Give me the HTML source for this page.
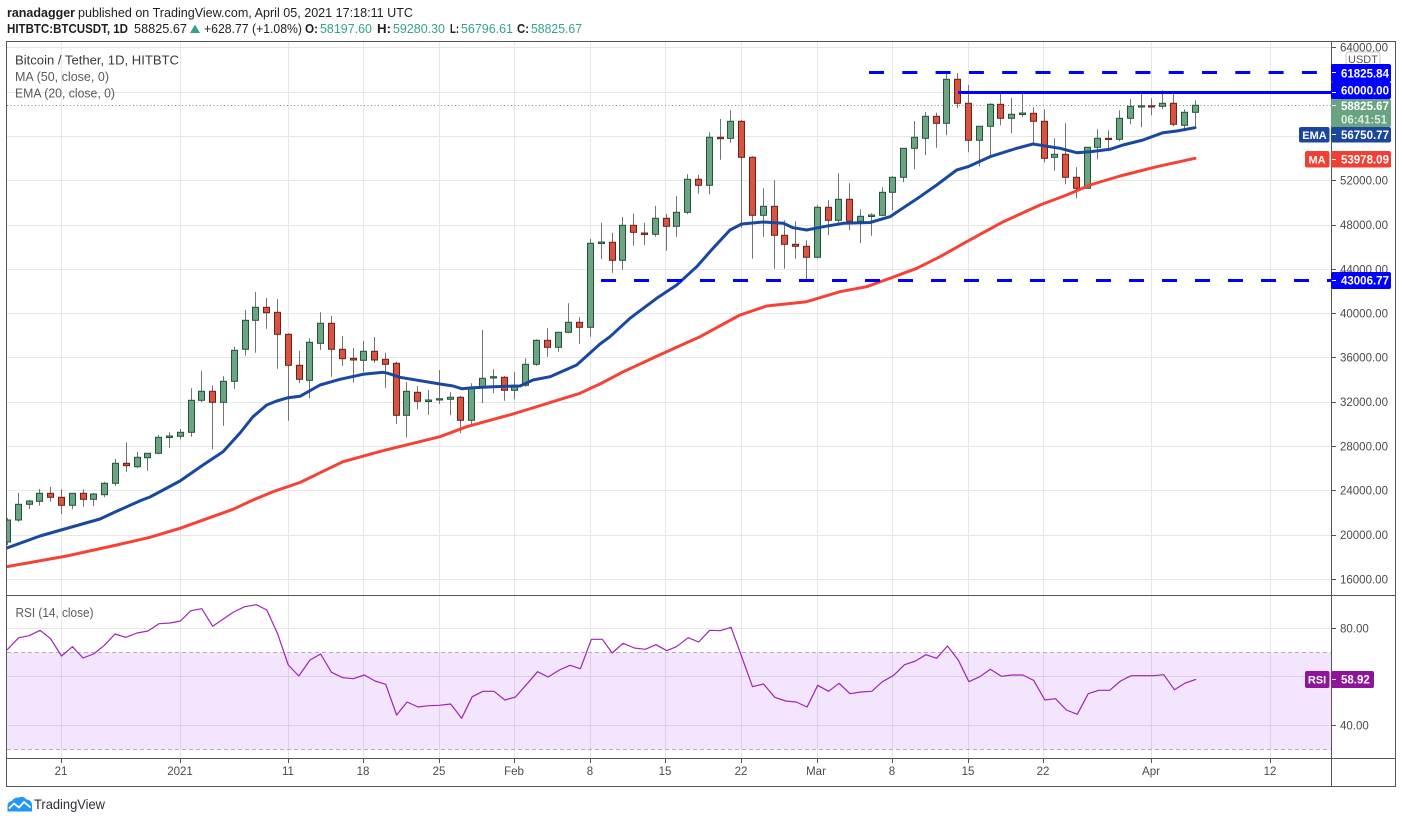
<!DOCTYPE html>
<html><head><meta charset="utf-8">
<style>
html,body{margin:0;padding:0;background:#fff;overflow:hidden;}
svg{display:block;}
text{font-family:"Liberation Sans",sans-serif;}
</style></head>
<body>
<svg id="c" width="1402" height="823" viewBox="0 0 1402 823" xmlns="http://www.w3.org/2000/svg">
<defs>
<clipPath id="pc"><rect x="7" y="42" width="1324.5" height="553"/></clipPath>
<clipPath id="rc"><rect x="7" y="596" width="1324.5" height="162"/></clipPath>
</defs>
<rect width="1402" height="823" fill="#fff"/>

<!-- header -->
<text x="7" y="17" font-size="13" font-weight="bold" fill="#1e1e1e" textLength="68" lengthAdjust="spacingAndGlyphs">ranadagger</text>
<text x="78" y="17" font-size="13" fill="#1e1e1e" textLength="335" lengthAdjust="spacingAndGlyphs">published on TradingView.com, April 05, 2021 17:18:11 UTC</text>

<text x="7" y="33" font-size="12.5" font-weight="bold" fill="#1e1e1e" textLength="121" lengthAdjust="spacingAndGlyphs">HITBTC:BTCUSDT, 1D</text>
<text x="134" y="33" font-size="12.5" fill="#1e1e1e" textLength="53" lengthAdjust="spacingAndGlyphs">58825.67</text>
<polygon points="190,33 200,33 195,24.5" fill="#30a390"/>
<text x="204" y="33" font-size="12.5" fill="#1e1e1e" textLength="98" lengthAdjust="spacingAndGlyphs">+628.77 (+1.08%)</text>
<text x="305" y="33" font-size="12.5" font-weight="bold" fill="#1e1e1e" textLength="13" lengthAdjust="spacingAndGlyphs">O:</text>
<text x="320" y="33" font-size="12.5" fill="#35a190" textLength="52" lengthAdjust="spacingAndGlyphs">58197.60</text>
<text x="377" y="33" font-size="12.5" font-weight="bold" fill="#1e1e1e" textLength="14" lengthAdjust="spacingAndGlyphs">H:</text>
<text x="393" y="33" font-size="12.5" fill="#35a190" textLength="52" lengthAdjust="spacingAndGlyphs">59280.30</text>
<text x="450" y="33" font-size="12.5" font-weight="bold" fill="#1e1e1e" textLength="9" lengthAdjust="spacingAndGlyphs">L:</text>
<text x="461" y="33" font-size="12.5" fill="#35a190" textLength="52" lengthAdjust="spacingAndGlyphs">56796.61</text>
<text x="517" y="33" font-size="12.5" font-weight="bold" fill="#1e1e1e" textLength="12" lengthAdjust="spacingAndGlyphs">C:</text>
<text x="531" y="33" font-size="12.5" fill="#35a190" textLength="51" lengthAdjust="spacingAndGlyphs">58825.67</text>

<!-- grid -->
<g stroke="#e7e7e7" stroke-width="1" fill="none">
  <path d="M7 47.5H1331 M7 92.5H1331 M7 136.5H1331 M7 180.5H1331 M7 225.5H1331 M7 269.5H1331 M7 313.5H1331 M7 357.5H1331 M7 402.5H1331 M7 446.5H1331 M7 490.5H1331 M7 535.5H1331 M7 579.5H1331"/>
  <path d="M7 628.5H1331 M7 676.5H1331 M7 725.5H1331"/>
  <path d="M61.5 42V758 M180.5 42V758 M288.5 42V758 M363.5 42V758 M439.5 42V758 M514.5 42V758 M590.5 42V758 M665.5 42V758 M741.5 42V758 M817.5 42V758 M892.5 42V758 M968.5 42V758 M1043.5 42V758 M1151.5 42V758 M1270.5 42V758"/>
</g>

<!-- RSI band -->
<rect x="7" y="652.5" width="1324.5" height="97" fill="rgb(135,0,235)" fill-opacity="0.1"/>
<g stroke="#b9a9c1" stroke-width="1" stroke-dasharray="4 3">
  <path d="M7 652.5H1331 M7 749.5H1331"/>
</g>

<!-- dotted last price line -->
<path d="M7 105.5H1331" stroke="#5e9a78" stroke-width="1" stroke-dasharray="1 2.5"/>

<!-- candles -->
<g id="candles" clip-path="url(#pc)"></g>

<!-- MA / EMA -->
<g clip-path="url(#pc)" fill="none" stroke-linejoin="round" stroke-linecap="round">
<polyline stroke="#f44336" stroke-width="3" points="7,566.7 66.7,556 116.7,545 150,537.3 180,528.3 233,509.3 253,500 273,491.7 300,482.5 343,461.7 383,450.7 440,436.7 466.7,426.7 513,414 580,393.3 590,388.5 600,384 623.3,371.7 663.3,353.3 700,336.7 740,315 766.7,306 806.7,301.7 840,291.7 866.7,286.7 890,278.3 916.7,268.3 940,256.7 966.7,241.7 1003.3,221.7 1040,205 1066.7,195 1090,185 1120,176 1156.7,166.7 1195,158.3"/>
<polyline stroke="#1848a0" stroke-width="3" points="7,548 40,536 61,530 100,519 115,512 142,500 150,497 180,481 203,465 223,451.7 240,433 253,416.7 266.7,405 276.7,401 288,397.7 300,396.3 320,385 340,379.3 363,374.3 383,372.3 388,373.3 400,377.3 440,384 453,386 461.7,388.7 473,387.7 493,386.7 520,386 533,380 550,376.7 576.7,365 590,353 600,344 610,336.7 630,318.3 656.7,298.3 676.7,285 696.7,266.7 713,248.3 730,230 741.7,224 763.3,222 783.3,223.3 793,227.7 806.7,230 823.3,226.7 843.3,223.3 870,222.5 890,216.7 900,210 920,196.7 936.7,185 956.7,170 968,166.7 990,156.7 1016.7,148.3 1033,144 1060,148.3 1076.7,152.7 1090,151.7 1110,149.3 1123,145 1143,140 1163,132.7 1176.7,131 1195,127.7"/>
</g>

<!-- horizontal levels -->
<g stroke="#0000ff" stroke-width="3" fill="none">
  <path d="M869 72.5H1331" stroke-dasharray="15 18.3"/>
  <path d="M601 280.5H1331" stroke-dasharray="15 18"/>
  <path d="M958 92.5H1331"/>
</g>

<!-- RSI line -->
<polyline clip-path="url(#rc)" fill="none" stroke="#9c27b0" stroke-width="1.2" stroke-linejoin="round" points="7,650 18.7,637.7 29.2,635.7 40.1,630.3 50.6,638.7 61.5,656 72.5,646.7 83,658 93.5,654 104,645.7 115,634 125.8,637.3 137.1,633 148,631 159,623.7 170.2,623 180.4,621 190.9,610.7 201.8,608.7 212.7,626.3 223.2,619 233.7,612 244.6,606.7 256.3,604.7 266.8,610 277.8,634.3 288.3,665 298.8,676 310,660 320.6,654 331.5,672.3 342.8,677.7 353.3,678.7 364.2,675 375.1,681 385.7,684.3 396.6,715 407.1,702 418,707 428.5,705.7 439.4,705.3 450.7,704 461.6,718.3 472.2,696.7 483,691.3 494,691.3 504.9,700 515.4,697 526.7,684.3 537.6,671.7 548.1,677 559.4,670 570,665.3 580.4,668.7 591.4,639.3 602.3,639.3 612.2,653 623.1,643.3 634.4,648 645.3,649.3 655.9,644.7 666.8,650.7 676.5,646.7 688.2,637.7 698.7,642 709.7,630.3 720.2,630.7 731.1,627.3 752.5,686.7 763.5,684 774.8,697.3 785.7,701 796.2,702 807.1,707 817.7,685.3 828.6,691.3 839.1,683.3 850,693.7 860.9,692 871.8,691.3 882.4,681.7 893.7,675.3 904.6,664.7 915.5,661 926,654.7 936.6,658.3 947.5,646 958.4,660.3 968.9,681.7 979.8,676.7 990.4,669.3 1001.3,676.3 1012.2,675 1022.7,675 1033.6,680.3 1044.9,700 1055.5,698.7 1066.4,710 1077.3,714.3 1088.2,693.7 1098.7,690.3 1109.7,690.3 1120.6,681 1131.1,675.7 1142.4,675.7 1153.3,675.7 1163.8,674.7 1174.4,689.7 1185.3,683 1196.2,679.3"/>

<!-- legends -->
<text x="15" y="64.5" font-size="12.5" fill="#3a3a3a" textLength="164" lengthAdjust="spacingAndGlyphs">Bitcoin / Tether, 1D, HITBTC</text>
<text x="15" y="81" font-size="12.5" fill="#5a5a5a" textLength="94" lengthAdjust="spacingAndGlyphs">MA (50, close, 0)</text>
<text x="15" y="97.5" font-size="12.5" fill="#5a5a5a" textLength="100" lengthAdjust="spacingAndGlyphs">EMA (20, close, 0)</text>
<text x="15.5" y="617" font-size="12.5" fill="#5a5a5a" textLength="78" lengthAdjust="spacingAndGlyphs">RSI (14, close)</text>

<!-- frame -->
<g stroke="#555" stroke-width="1" fill="none">
  <rect x="6.5" y="41.5" width="1389" height="745"/>
  <path d="M6.5 595.5H1395.5 M6.5 758.5H1395.5 M1331.5 41.5V786.5"/>
</g>

<!-- price axis labels -->
<g font-size="11.5" fill="#4a4a4a">
  <text x="1340" y="51.5">64000.00</text>
  <text x="1340" y="184.5">52000.00</text>
  <text x="1340" y="229">48000.00</text>
  <text x="1340" y="273.5">44000.00</text>
  <text x="1340" y="317.5">40000.00</text>
  <text x="1340" y="361.5">36000.00</text>
  <text x="1340" y="406">32000.00</text>
  <text x="1340" y="450.5">28000.00</text>
  <text x="1340" y="494.5">24000.00</text>
  <text x="1340" y="539">20000.00</text>
  <text x="1340" y="583.5">16000.00</text>
  <text x="1340" y="632.5">80.00</text>
  <text x="1340" y="729.5">40.00</text>
</g>
<g stroke="#555" stroke-width="1">
  <path d="M1332 47.5H1336 M1332 180.5H1336 M1332 225.5H1336 M1332 269.5H1336 M1332 313.5H1336 M1332 357.5H1336 M1332 402.5H1336 M1332 446.5H1336 M1332 490.5H1336 M1332 535.5H1336 M1332 579.5H1336 M1332 628.5H1336 M1332 725.5H1336"/>
</g>

<!-- USDT -->
<rect x="1346" y="52" width="34" height="14" rx="3" fill="#fff" stroke="#c8c8c8"/>
<text x="1363" y="63" font-size="11" fill="#555" text-anchor="middle">USDT</text>

<!-- price boxes -->
<rect x="1331" y="64" width="60" height="18" rx="2" fill="#0000ff"/>
<text x="1341" y="77.5" font-size="11.5" font-weight="bold" fill="#fff">61825.84</text>
<rect x="1331" y="82" width="60" height="17" rx="2" fill="#0000ff"/>
<text x="1341" y="94.5" font-size="11.5" font-weight="bold" fill="#fff">60000.00</text>
<rect x="1331" y="99" width="60" height="28" rx="2" fill="#6aa381"/>
<text x="1341" y="110" font-size="11.5" font-weight="bold" fill="#fff">58825.67</text>
<text x="1341" y="123.5" font-size="11.5" font-weight="bold" fill="#d9ecdf">06:41:51</text>
<rect x="1299" y="127" width="30.5" height="15.5" rx="2" fill="#1a479c"/>
<text x="1314.5" y="139" font-size="11" font-weight="bold" fill="#fff" text-anchor="middle">EMA</text>
<rect x="1331" y="127" width="60" height="15.5" rx="2" fill="#1a479c"/>
<text x="1341" y="139" font-size="11.5" font-weight="bold" fill="#fff">56750.77</text>
<rect x="1305" y="151" width="24.5" height="16.5" rx="2" fill="#f23f33"/>
<text x="1317" y="163.5" font-size="11" font-weight="bold" fill="#fff" text-anchor="middle">MA</text>
<rect x="1331" y="151" width="60" height="16.5" rx="2" fill="#f23f33"/>
<text x="1341" y="163.5" font-size="11.5" font-weight="bold" fill="#fff">53978.09</text>
<rect x="1331" y="272" width="60" height="17" rx="2" fill="#0000ff"/>
<text x="1341" y="284.5" font-size="11.5" font-weight="bold" fill="#fff">43006.77</text>
<rect x="1305" y="671" width="24.5" height="17" rx="2" fill="#8e1599"/>
<text x="1317" y="683.5" font-size="11" font-weight="bold" fill="#fff" text-anchor="middle">RSI</text>
<rect x="1331" y="671" width="43" height="17" rx="2" fill="#8e1599"/>
<text x="1341" y="683.5" font-size="11.5" font-weight="bold" fill="#fff">58.92</text>
<g stroke="#fff" stroke-width="1">
  <path d="M1332 72.5H1336 M1332 92.5H1336 M1332 105.5H1336 M1332 134.5H1336 M1332 159.5H1336 M1332 280.5H1336 M1332 679.5H1336"/>
</g>

<!-- x axis -->
<g stroke="#555" stroke-width="1">
  <path d="M61.5 759V763 M180.5 759V763 M288.5 759V763 M363.5 759V763 M439.5 759V763 M514.5 759V763 M590.5 759V763 M665.5 759V763 M741.5 759V763 M817.5 759V763 M892.5 759V763 M968.5 759V763 M1043.5 759V763 M1151.5 759V763 M1270.5 759V763"/>
</g>
<g font-size="11.5" fill="#4a4a4a" text-anchor="middle">
  <text x="61" y="775">21</text>
  <text x="180" y="775">2021</text>
  <text x="288" y="775">11</text>
  <text x="363" y="775">18</text>
  <text x="439" y="775">25</text>
  <text x="514" y="775">Feb</text>
  <text x="590" y="775">8</text>
  <text x="665" y="775">15</text>
  <text x="741" y="775">22</text>
  <text x="816" y="775">Mar</text>
  <text x="892" y="775">8</text>
  <text x="968" y="775">15</text>
  <text x="1043" y="775">22</text>
  <text x="1151" y="775">Apr</text>
  <text x="1270" y="775">12</text>
</g>

<!-- footer logo -->
<path d="M7.5 811.5 L7.5 806 Q7.5 801.5 12 801 Q14 797 19 797.5 Q23 795.5 26.5 799.5 Q32 800 32 805.5 L32 811.5 Z" fill="#2196f3"/>
<polyline points="9,808.5 14,803.5 19,807.5 24,802 30.5,807.5" fill="none" stroke="#fff" stroke-width="1.8" stroke-linejoin="round"/>
<text x="34" y="809" font-size="14" fill="#2a2e39" textLength="71" lengthAdjust="spacingAndGlyphs">TradingView</text>
</svg>
<script>
(function(){
var D=[
[0,520,542,518,545,1],[1,504.3,520,492.7,521.7,1],[2,501,504.3,500,509,1],[3,493.3,501.3,489,505.7,1],[4,493.3,497.3,486.7,501.7,0],[5,497.3,505.3,489.3,514.3,0],[6,493.3,505.3,493,509.3,1],[7,493.3,499.3,489.3,506.7,0],[8,494,499.3,493,506,1],[9,483.3,494.7,481.7,497.3,1],
[10,463.3,483.3,459,486,1],[11,463.3,465.7,442.3,471.7,0],[12,457.3,466.7,452,468,1],[13,453.3,457.7,453,470.7,1],[14,437.3,453.3,435,454.3,1],[15,436,437.5,432.3,447.7,1],[16,432.3,436.3,429,439.3,1],[17,400.3,432.3,388.3,436.7,1],[18,391.3,400.3,371,402.3,1],[19,391.3,402.3,385.3,449.3,0],
[20,381.3,402.3,376.3,425.7,1],[21,350.3,381.3,346.7,388.7,1],[22,320.3,349.3,310,355.7,1],[23,307.3,320.3,292,352.7,1],[24,307.3,312.7,298,328.7,0],[25,312.3,334.3,299.3,368.7,0],[26,334.3,365.3,333.3,420.7,0],[27,365.3,379.3,350.7,383,0],[28,342.3,380.3,338.3,398.3,1],[29,323.3,343.3,312.3,350,1],
[30,323.3,349.3,316,376.7,0],[31,349.3,358.7,336,366,0],[32,358.3,360,348,382.7,0],[33,351.3,360.3,341,372,1],[34,351.3,360,337,362.7,0],[35,359.3,364.3,352.7,387.7,0],[36,363.3,415.3,361.7,424,0],[37,391.3,415.3,382,437.3,1],[38,392.3,401.3,386,409.3,0],[39,400,401.5,390,414.7,1],
[40,398.7,400,370,404,1],[41,397.3,399.3,392.3,415.3,1],[42,397.3,420.3,396,433.3,0],[43,387.3,420.3,383.3,426,1],[44,378.3,387.3,330,403.3,1],[45,376.7,378,369.3,393.3,1],[46,377.3,390.3,376,400.7,0],[47,385.3,390.3,372,399.3,1],[48,364.3,385.3,358.3,386.7,1],[49,340.3,364.3,339.3,365.7,1],
[50,340.3,347.3,328.3,356.7,0],[51,332.3,347.3,332.3,351.7,1],[52,322.3,332.3,303.3,333.3,1],[53,322.3,327.3,317.3,344,0],[54,243.3,327.3,239,336.7,1],[55,242,243.5,222.7,259,1],[56,242.3,260.3,232.7,272.7,0],[57,225.3,260.3,217,269.7,1],[58,225.3,232.3,213.7,245.7,0],[59,233,234.5,222.7,245,0],
[60,218.3,234.3,206,236.7,1],[61,218.3,226.3,214,250.7,0],[62,212.3,226.3,196,236.7,1],[63,179.3,212.3,174.3,214.3,1],[64,179.3,185.3,175,193.7,0],[65,137.3,185.3,132.3,194.3,1],[66,137.3,138.7,119,159.7,0],[67,121.3,138.3,110,142.7,1],[68,121.3,157.3,120,227.7,0],[69,157.3,215.3,156.3,258.7,0],
[70,206.3,215.3,188.3,236.7,1],[71,206.3,235.3,180.3,268.7,0],[72,235.3,244.3,220.3,268.7,0],[73,244.3,246.3,221.3,258.7,0],[74,246.3,257.3,240.3,280,0],[75,207.3,257.3,205,258.3,1],[76,207.3,220.3,200.3,235.3,0],[77,199.3,220.3,173.3,225,1],[78,199.3,221.3,183.3,230.3,0],[79,216.3,221.3,209.3,243.3,1],
[80,215,216.5,213.3,235.7,1],[81,192.3,215.3,187.3,216.3,1],[82,177.3,192.3,176.3,210.3,1],[83,148.3,177.3,148.3,182.3,1],[84,137.3,148.3,121,169.3,1],[85,116.3,138.3,112,155.3,1],[86,116.3,123.3,112.7,147.7,0],[87,79.3,123.3,73.3,135.3,1],[88,79.3,103.3,73.3,108.3,0],[89,103.3,140.3,85,152.3,0],
[90,126.3,140.3,126,166.3,1],[91,104.3,126.3,103.3,157.3,1],[92,104.3,118.3,93.3,125.3,0],[93,114.3,118.3,98,133.3,1],[94,113,114.5,93.3,116.7,1],[95,113.3,121.3,107.3,143.3,0],[96,121.3,158.3,109.3,162.3,0],[97,154.3,157.3,138.3,170.7,1],[98,154.3,177.3,123.3,184.3,0],[99,177.3,188.3,167.3,198.3,0],
[100,147.3,188.3,147,188.3,1],[101,138.3,147.3,129.3,159.3,1],[102,138.3,139.5,130.3,151.3,0],[103,118.3,139.3,110.3,141.3,1],[104,106.3,118.3,99.3,124.3,1],[105,105.8,107,91.3,127.3,1],[106,105.8,107,98.3,115.3,0],[107,103.3,106.3,90.3,109.3,1],[108,103.3,124.3,93.3,126.3,0],[109,112.3,125.3,109.3,131.3,1],
[110,105.3,112.3,100.3,127.3,1]
];
var ns="http://www.w3.org/2000/svg";
var g=document.getElementById("candles");
for(var k=0;k<D.length;k++){
  var d=D[k];
  var cx=Math.round(7+d[0]*10.797)+0.5;
  var ln=document.createElementNS(ns,"line");
  ln.setAttribute("x1",cx);ln.setAttribute("x2",cx);
  ln.setAttribute("y1",d[3]);ln.setAttribute("y2",d[4]);
  ln.setAttribute("stroke","#737375");ln.setAttribute("stroke-width","1");
  g.appendChild(ln);
  var r=document.createElementNS(ns,"rect");
  var h=Math.max(d[2]-d[1],1);
  r.setAttribute("x",cx-3);r.setAttribute("y",d[1]);
  r.setAttribute("width",6);r.setAttribute("height",h);
  r.setAttribute("fill",d[5]?"#6ba583":"#d75442");
  r.setAttribute("stroke",d[5]?"#225437":"#6f1f14");
  r.setAttribute("stroke-width","1");
  g.appendChild(r);
}
})();
</script>
</body></html>
